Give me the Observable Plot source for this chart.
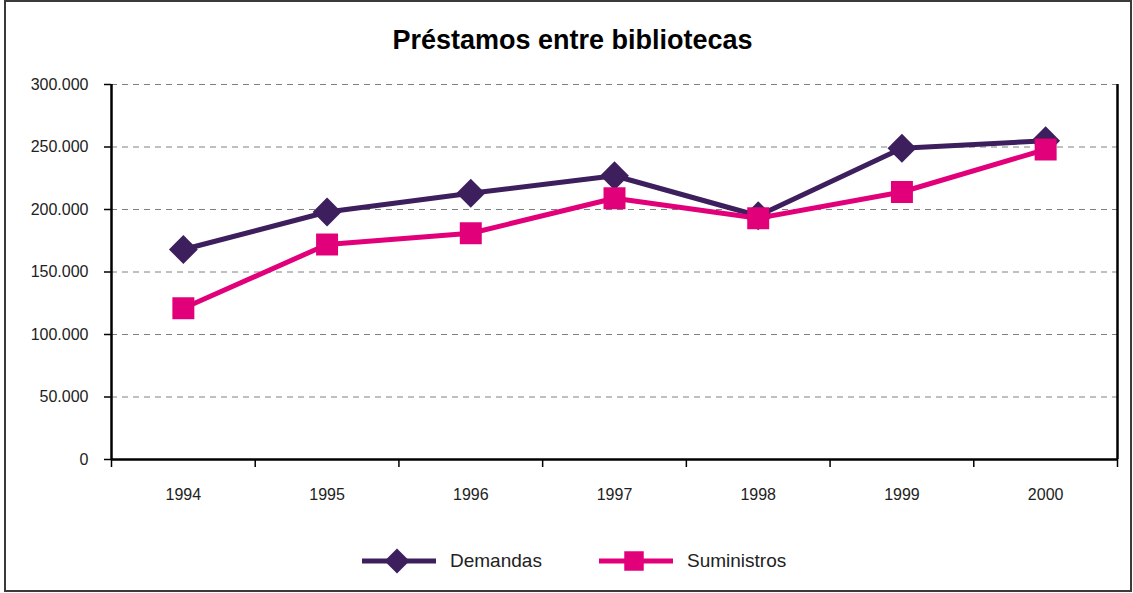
<!DOCTYPE html>
<html>
<head>
<meta charset="utf-8">
<script src="https://cdn.jsdelivr.net/npm/d3@7"></script>
<script src="https://cdn.jsdelivr.net/npm/@observablehq/plot@0.6"></script>
<style>
  html, body { margin: 0; padding: 0; background: #fff; }
  #wrap { position: relative; width: 1133px; height: 593px; overflow: hidden; background: #fff; }
  #frame { position: absolute; left: 4px; top: 0px; width: 1128px; height: 592px; box-sizing: border-box;
           border: 2px solid #3a3a3a; pointer-events: none; }
  #title { position: absolute; left: 0; top: 0; width: 1133px; height: 70px; text-align: center;
           font-family: "Liberation Sans", Arial, sans-serif; font-weight: bold;
           font-size: 27px; line-height: 1; color: #000; }
  #title span { position: absolute; left: 12px; right: 0; top: 27px; }
  #chart { position: absolute; left: 0; top: 70px; }
  #legend { position: absolute; left: 0; top: 520px; width: 1133px; height: 73px;
            font-family: "Liberation Sans", Arial, sans-serif; font-size: 19px; color: #222; }
  .lg-sym { position: absolute; top: 26px; }
  .lg-txt { position: absolute; top: 31px; line-height: 1; }
</style>
</head>
<body>
<div id="wrap">
  <div id="title"><span></span></div>
  <div id="chart"></div>
  <div id="legend"></div>
  <div id="frame"></div>
</div>
<script>
const titleText = "Préstamos entre bibliotecas";
const years = [1994, 1995, 1996, 1997, 1998, 1999, 2000];
const seriesNames = ["Demandas", "Suministros"];
const demandas = [168000, 198000, 213000, 227000, 195000, 249000, 255000];
const suministros = [121000, 172000, 181000, 209000, 193000, 214000, 248000];
const yTicks = [0, 50000, 100000, 150000, 200000, 250000, 300000];
const xBoundaries = [1993.5, 1994.5, 1995.5, 1996.5, 1997.5, 1998.5, 1999.5, 2000.5];
const colors = ["#3d1f5e", "#e2007a"];
const symbols = ["diamond2", "square"];

document.querySelector("#title span").textContent = titleText;

const rowsD = years.map((y, i) => ({year: y, value: demandas[i], serie: seriesNames[0]}));
const rowsS = years.map((y, i) => ({year: y, value: suministros[i], serie: seriesNames[1]}));

const loc = d3.formatLocale({decimal: ",", thousands: ".", grouping: [3], currency: ["", ""]});
const fmt = loc.format(",");

const font = '"Liberation Sans", Arial, sans-serif';

const plot = Plot.plot({
  width: 1133,
  height: 450,
  marginLeft: 111,
  marginRight: 16,
  marginTop: 14,
  marginBottom: 61,
  style: {fontFamily: font, fontSize: "16px", color: "#222", background: "transparent", overflow: "visible"},
  x: {type: "linear", domain: [1993.5, 2000.5], label: null},
  y: {type: "linear", domain: [0, 300000], label: null},
  marks: [
    Plot.gridY(yTicks.filter(d => d > 0), {stroke: "#808080", strokeOpacity: 1, strokeWidth: 1, strokeDasharray: "6,5"}),
    Plot.axisY({ticks: yTicks, tickSize: 7, tickPadding: 16, tickFormat: fmt, label: null, stroke: "#000", strokeWidth: 1.5, fill: "#222"}),
    Plot.axisX({ticks: xBoundaries, tickSize: 8, tickFormat: () => "", label: null, stroke: "#000", strokeWidth: 1.5}),
    Plot.axisX({ticks: years, tickSize: 0, tickPadding: 29, tickFormat: d => String(d), label: null, fill: "#222"}),
    Plot.ruleX([xBoundaries[0]], {stroke: "#000", strokeWidth: 2.5}),
    Plot.ruleX([xBoundaries[xBoundaries.length - 1]], {stroke: "#000", strokeWidth: 2.5}),
    Plot.ruleY([0], {stroke: "#000", strokeWidth: 2.5}),
    Plot.line(rowsD, {x: "year", y: "value", stroke: colors[0], strokeWidth: 5}),
    Plot.dot(rowsD, {x: "year", y: "value", symbol: symbols[0], r: 13, fill: colors[0], stroke: "none"}),
    Plot.line(rowsS, {x: "year", y: "value", stroke: colors[1], strokeWidth: 5}),
    Plot.dot(rowsS, {x: "year", y: "value", symbol: symbols[1], r: 12.4, fill: colors[1], stroke: "none"})
  ]
});
document.getElementById("chart").appendChild(plot);

// Legend
const legend = document.getElementById("legend");
const legendPos = [{sym: 362, txt: 450}, {sym: 599, txt: 687}];
seriesNames.forEach((name, i) => {
  const w = 74, h = 30;
  const svg = d3.create("svg").attr("class", "lg-sym").attr("width", w).attr("height", h)
    .style("left", legendPos[i].sym + "px");
  svg.append("line").attr("x1", 0).attr("x2", w).attr("y1", h / 2).attr("y2", h / 2)
    .attr("stroke", colors[i]).attr("stroke-width", 5);
  const sym = i === 0 ? d3.symbol(d3.symbolDiamond2, 400) : d3.symbol(d3.symbolSquare, 380);
  svg.append("path").attr("d", sym()).attr("transform", `translate(${w / 2 - 2},${h / 2})`).attr("fill", colors[i]);
  legend.appendChild(svg.node());
  const t = document.createElement("div");
  t.className = "lg-txt";
  t.style.left = legendPos[i].txt + "px";
  t.textContent = name;
  legend.appendChild(t);
});
</script>
</body>
</html>
